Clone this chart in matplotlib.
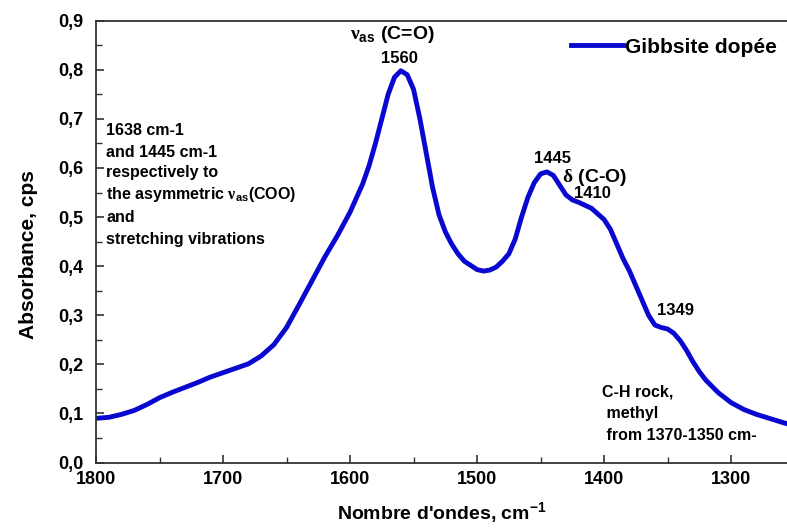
import numpy as np
import matplotlib.pyplot as plt
from matplotlib.ticker import MultipleLocator, FuncFormatter

plt.rcParams['font.family'] = ['Liberation Sans', 'DejaVu Sans']
plt.rcParams['font.weight'] = 'bold'
plt.rcParams['mathtext.fontset'] = 'custom'
plt.rcParams['mathtext.rm'] = 'Liberation Serif'
plt.rcParams['mathtext.sf'] = 'Liberation Sans:bold'

# spectre (nombre d'ondes, absorbance)
wavenumber = [1800, 1790, 1780, 1770, 1760, 1750, 1740, 1730, 1720, 1710, 1700, 1690,
              1680, 1670, 1660, 1650, 1640, 1630, 1620, 1610, 1600, 1590, 1585, 1580,
              1575, 1570, 1565, 1560, 1555, 1550, 1545, 1540, 1535, 1530, 1525, 1520,
              1515, 1510, 1500, 1495, 1490, 1485, 1480, 1475, 1470, 1465, 1460, 1455,
              1450, 1445, 1440, 1435, 1430, 1425, 1420, 1410, 1400, 1395, 1390, 1385,
              1380, 1375, 1370, 1365, 1360, 1355, 1350, 1345, 1340, 1335, 1330, 1325,
              1320, 1310, 1300, 1290, 1280, 1270, 1260, 1256]
absorbance = [0.090, 0.092, 0.098, 0.106, 0.118, 0.132, 0.143, 0.153, 0.163, 0.174, 0.183, 0.192,
              0.201, 0.217, 0.240, 0.275, 0.322, 0.370, 0.418, 0.462, 0.510, 0.568, 0.605, 0.650,
              0.700, 0.750, 0.785, 0.798, 0.790, 0.760, 0.700, 0.630, 0.560, 0.505, 0.470, 0.445,
              0.425, 0.410, 0.393, 0.390, 0.392, 0.398, 0.410, 0.425, 0.455, 0.500, 0.540, 0.570,
              0.588, 0.592, 0.585, 0.565, 0.545, 0.535, 0.530, 0.518, 0.495, 0.475, 0.445, 0.415,
              0.390, 0.360, 0.330, 0.300, 0.280, 0.275, 0.272, 0.263, 0.248, 0.228, 0.205, 0.185,
              0.168, 0.142, 0.122, 0.108, 0.098, 0.090, 0.082, 0.079]

fig = plt.figure(figsize=(7.87, 5.31), dpi=100)
ax = fig.add_axes([0.122, 0.129, 0.878, 0.832])

ax.plot(wavenumber, absorbance, color='#0808d0', lw=3.5, label='Gibbsite dopée',
        solid_joinstyle='round')

ax.set_xlim(1800, 1256)
ax.set_ylim(0, 0.9)
ax.spines['right'].set_visible(False)
for s in ['left', 'bottom', 'top']:
    ax.spines[s].set_color('#333333')
    ax.spines[s].set_linewidth(1.3)

ax.xaxis.set_major_locator(MultipleLocator(100))
ax.xaxis.set_minor_locator(MultipleLocator(50))
ax.yaxis.set_major_locator(MultipleLocator(0.1))
ax.yaxis.set_minor_locator(MultipleLocator(0.05))
ax.yaxis.set_major_formatter(FuncFormatter(lambda v, p: f'{v:.1f}'.replace('.', ',')))
ax.tick_params(which='both', direction='in', labelsize=13, color='#333333')
ax.tick_params(which='major', length=6, width=1.2)
ax.tick_params(which='minor', length=4, width=1.0)
ax.tick_params(axis='y', pad=9)
ax.tick_params(axis='x', pad=6)

ax.set_xlabel("Nombre d'ondes, cm$^{\\mathsf{-1}}$", fontsize=14, fontweight='bold', labelpad=9)
ax.set_ylabel('Absorbance, cps', fontsize=15, fontweight='bold')
ax.yaxis.set_label_coords(-0.084, 0.47)

leg = ax.legend(loc='upper right', bbox_to_anchor=(1.0, 0.985), frameon=False,
                handlelength=2.5, handletextpad=0.1, fontsize=15, borderaxespad=0.1)

# annotations
ax.text(1567, 0.871, r'$\mathrm{\nu}_{\mathsf{as}}$ (C=O)', ha='center', va='center', fontsize=14)
ax.text(1561, 0.824, '1560', ha='center', va='center', fontsize=12)
ax.text(1441, 0.620, '1445', ha='center', va='center', fontsize=12)
ax.text(1433, 0.581, r'$\mathrm{\delta}$ (C-O)', ha='left', va='center', fontsize=14)
ax.text(1409, 0.547, '1410', ha='center', va='center', fontsize=12)
ax.text(1344, 0.309, '1349', ha='center', va='center', fontsize=12)

left_lines = ['1638 cm-1', 'and 1445 cm-1', 'respectively to',
              r'the asymmetric $\mathrm{\nu}_{\mathsf{as}}$(COO)', 'and', 'stretching vibrations']
left_y = [0.677, 0.632, 0.590, 0.545, 0.500, 0.455]
for t, yy in zip(left_lines, left_y):
    ax.text(1792, yy, t, ha='left', va='center', fontsize=11.5)

ch_lines = ['C-H rock,', ' methyl', ' from 1370-1350 cm-']
ch_y = [0.144, 0.099, 0.054]
for t, yy in zip(ch_lines, ch_y):
    ax.text(1402, yy, t, ha='left', va='center', fontsize=11.5)

fig.savefig('out.png', dpi=100)
